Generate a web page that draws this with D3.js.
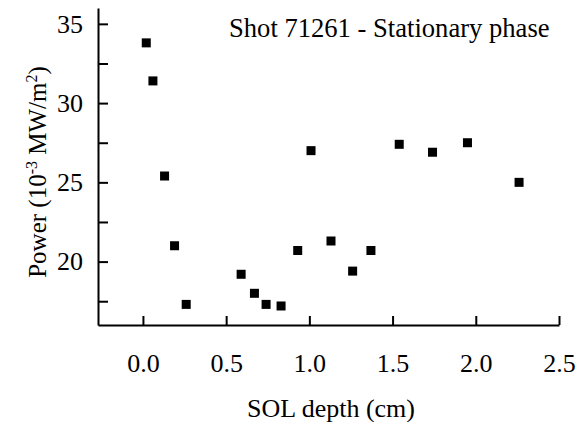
<!DOCTYPE html>
<html>
<head>
<meta charset="utf-8">
<script src="https://cdn.jsdelivr.net/npm/d3@7"></script>
<style>
  body { margin: 0; background: #fff; }
  svg { display: block; font-family: "Liberation Serif", "Times New Roman", serif; }
</style>
</head>
<body>
<svg width="588" height="422"></svg>
<script>
// SOL depth (cm) and power (10^-3 MW/m^2)
var depth = [0.02, 0.06, 0.13, 0.19, 0.26, 0.59, 0.67, 0.74, 0.83, 0.93, 1.01,
             1.13, 1.26, 1.37, 1.54, 1.74, 1.95, 2.26];
var power = [33.8, 31.4, 25.4, 21.0, 17.3, 19.2, 18.0, 17.3, 17.2, 20.7, 27.0,
             21.3, 19.4, 20.7, 27.4, 26.9, 27.5, 25.0];
var xTicks = [0, 0.5, 1.0, 1.5, 2.0, 2.5];
var yTicks = [17.5, 20, 22.5, 25, 27.5, 30, 32.5, 35];

var svg = d3.select('svg');

var x = d3.scaleLinear().domain([-0.27, 2.5]).range([98, 559]);
var y = d3.scaleLinear().domain([16, 36]).range([325, 8]);

svg.append('g')
  .attr('transform', 'translate(0,325)')
  .call(d3.axisBottom(x)
    .tickValues(xTicks)
    .tickSizeInner(-9)
    .tickSizeOuter(0)
    .tickPadding(29)
    .tickFormat(d3.format('.1f')));

svg.append('g')
  .attr('transform', 'translate(98,0)')
  .call(d3.axisLeft(y)
    .tickValues(yTicks)
    .tickSizeInner(-10)
    .tickSizeOuter(0)
    .tickPadding(15)
    .tickFormat(function (d) { return d % 5 === 0 ? d : ''; }));

svg.selectAll('.domain, .tick line')
  .attr('stroke', '#000')
  .attr('stroke-width', 2);
svg.selectAll('.tick text')
  .attr('fill', '#000')
  .style('font-family', '"Liberation Serif", serif')
  .style('font-size', '26px');

svg.append('g')
  .selectAll('rect')
  .data(depth)
  .enter()
  .append('rect')
  .attr('x', function (d) { return x(d) - 4.5; })
  .attr('y', function (d, i) { return y(power[i]) - 4.5; })
  .attr('width', 9)
  .attr('height', 9)
  .attr('fill', '#000');

svg.append('text')
  .attr('x', 229)
  .attr('y', 37)
  .style('font-size', '26.6px')
  .text('Shot 71261 - Stationary phase');

svg.append('text')
  .attr('x', 331)
  .attr('y', 417)
  .attr('text-anchor', 'middle')
  .style('font-size', '26px')
  .text('SOL depth (cm)');

var yl = svg.append('text')
  .attr('transform', 'translate(46,172) rotate(-90)')
  .attr('text-anchor', 'middle')
  .style('font-size', '25px');
yl.append('tspan').text('Power (10');
yl.append('tspan').attr('dy', -9).style('font-size', '16px').text('-3');
yl.append('tspan').attr('dy', 9).text(' MW/m');
yl.append('tspan').attr('dy', -9).style('font-size', '16px').text('2');
yl.append('tspan').attr('dy', 9).text(')');
</script>
</body>
</html>
